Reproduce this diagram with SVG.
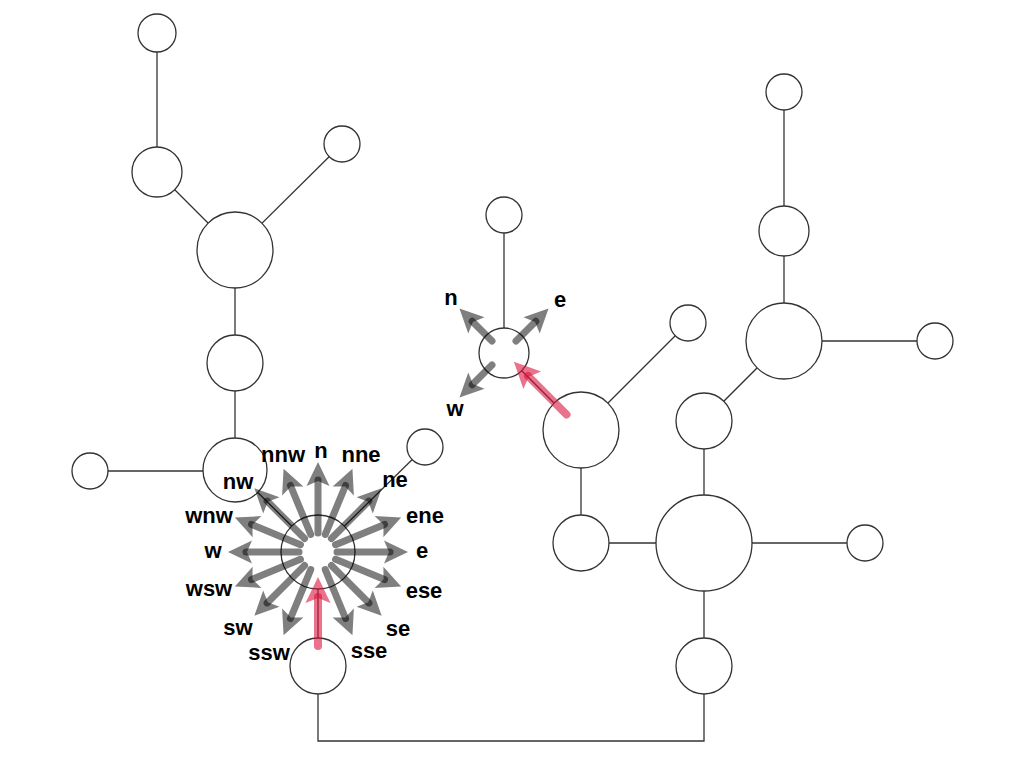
<svg xmlns="http://www.w3.org/2000/svg" width="1024" height="768" viewBox="0 0 1024 768">
<style>
.edge{fill:none;stroke:#333;stroke-width:1.3}
.node{fill:#fff;stroke:#333;stroke-width:1.3}
.garrow{stroke:#000;stroke-opacity:0.5;stroke-width:7;stroke-linecap:round;fill:none;marker-end:url(#gh)}
.rarrow{stroke:#dc143c;stroke-opacity:0.6;stroke-width:8;stroke-linecap:round;fill:none;marker-end:url(#rh)}
.lbl{font-family:"Liberation Sans",Arial,sans-serif;font-weight:bold;font-size:22px;fill:#000;text-anchor:middle}
</style>
<defs>
<marker id="gh" markerUnits="userSpaceOnUse" orient="auto" refX="0" refY="0" markerWidth="40" markerHeight="40" overflow="visible">
<path d="M18,0 L-6,-11.5 L-1,0 L-6,11.5 Z" fill="#000" fill-opacity="0.5"/>
</marker>
<marker id="rh" markerUnits="userSpaceOnUse" orient="auto" refX="0" refY="0" markerWidth="40" markerHeight="40" overflow="visible">
<path d="M20,0 L-6,-12.5 L-1,0 L-6,12.5 Z" fill="#dc143c" fill-opacity="0.6"/>
</marker>
</defs>
<rect width="1024" height="768" fill="#fff"/>
<g id="connectors">
<line class="edge" x1="157" y1="33" x2="157" y2="172"/>
<line class="edge" x1="157" y1="172" x2="235" y2="250"/>
<line class="edge" x1="342" y1="144" x2="235" y2="250"/>
<line class="edge" x1="235" y1="250" x2="235" y2="363"/>
<line class="edge" x1="235" y1="363" x2="235" y2="470"/>
<line class="edge" x1="235" y1="471" x2="90" y2="471"/>
<line class="edge" x1="235" y1="470" x2="318" y2="552"/>
<line class="edge" x1="425" y1="447" x2="318" y2="552"/>
<line class="edge" x1="318" y1="552" x2="318" y2="666"/>
<polyline class="edge" points="318,666 318,741 704,741 704,666"/>
<line class="edge" x1="504" y1="215" x2="504" y2="353"/>
<line class="edge" x1="504" y1="353" x2="581" y2="430"/>
<line class="edge" x1="688" y1="323" x2="581" y2="430"/>
<line class="edge" x1="581" y1="430" x2="581" y2="543"/>
<line class="edge" x1="581" y1="543" x2="704" y2="543"/>
<line class="edge" x1="704" y1="543" x2="865" y2="543"/>
<line class="edge" x1="704" y1="421" x2="704" y2="666"/>
<line class="edge" x1="704" y1="421" x2="784" y2="341"/>
<line class="edge" x1="784" y1="341" x2="935" y2="341"/>
<line class="edge" x1="784" y1="92" x2="784" y2="341"/>
</g>
<g id="n1"><circle class="node" cx="157" cy="33" r="19"/></g>
<g id="n2"><circle class="node" cx="157" cy="172" r="25"/></g>
<g id="n3"><circle class="node" cx="342" cy="144" r="18"/></g>
<g id="n4"><circle class="node" cx="235" cy="250" r="38"/></g>
<g id="n5"><circle class="node" cx="235" cy="363" r="28"/></g>
<g id="n6"><circle class="node" cx="235" cy="470" r="32"/></g>
<g id="n7"><circle class="node" cx="90" cy="471" r="18"/></g>
<g id="n8"><circle class="node" cx="425" cy="447" r="18"/></g>
<g id="n9"><circle class="node" cx="318" cy="552" r="37"/></g>
<g id="n10"><circle class="node" cx="318" cy="666" r="28"/></g>
<g id="n11"><circle class="node" cx="504" cy="215" r="18"/></g>
<g id="n12"><circle class="node" cx="504" cy="353" r="25"/></g>
<g id="n13"><circle class="node" cx="688" cy="323" r="18"/></g>
<g id="n14"><circle class="node" cx="581" cy="430" r="38"/></g>
<g id="n15"><circle class="node" cx="581" cy="543" r="28"/></g>
<g id="n16"><circle class="node" cx="704" cy="543" r="48"/></g>
<g id="n17"><circle class="node" cx="865" cy="543" r="18"/></g>
<g id="n18"><circle class="node" cx="704" cy="421" r="28"/></g>
<g id="n19"><circle class="node" cx="704" cy="666" r="28"/></g>
<g id="n20"><circle class="node" cx="784" cy="92" r="18"/></g>
<g id="n21"><circle class="node" cx="784" cy="231" r="25"/></g>
<g id="n22"><circle class="node" cx="784" cy="341" r="38"/></g>
<g id="n23"><circle class="node" cx="935" cy="341" r="18"/></g>
<g id="compass-large">
<g transform="translate(318 552)">
<line class="garrow" x1="19" y1="0" x2="72" y2="0" transform="rotate(-90)"/>
<line class="garrow" x1="19" y1="0" x2="72" y2="0" transform="rotate(-67.5)"/>
<line class="garrow" x1="19" y1="0" x2="72" y2="0" transform="rotate(-45)"/>
<line class="garrow" x1="19" y1="0" x2="72" y2="0" transform="rotate(-22.5)"/>
<line class="garrow" x1="19" y1="0" x2="72" y2="0" transform="rotate(0)"/>
<line class="garrow" x1="19" y1="0" x2="72" y2="0" transform="rotate(22.5)"/>
<line class="garrow" x1="19" y1="0" x2="72" y2="0" transform="rotate(45)"/>
<line class="garrow" x1="19" y1="0" x2="72" y2="0" transform="rotate(67.5)"/>
<line class="garrow" x1="19" y1="0" x2="72" y2="0" transform="rotate(112.5)"/>
<line class="garrow" x1="19" y1="0" x2="72" y2="0" transform="rotate(135)"/>
<line class="garrow" x1="19" y1="0" x2="72" y2="0" transform="rotate(157.5)"/>
<line class="garrow" x1="19" y1="0" x2="72" y2="0" transform="rotate(180)"/>
<line class="garrow" x1="19" y1="0" x2="72" y2="0" transform="rotate(-157.5)"/>
<line class="garrow" x1="19" y1="0" x2="72" y2="0" transform="rotate(-135)"/>
<line class="garrow" x1="19" y1="0" x2="72" y2="0" transform="rotate(-112.5)"/>
</g>
<line class="rarrow" x1="318" y1="646" x2="318" y2="597"/>
</g>
<g id="compass-small">
<g transform="translate(504 353)">
<line class="garrow" x1="17" y1="0" x2="45" y2="0" transform="rotate(-135)"/>
<line class="garrow" x1="17" y1="0" x2="45" y2="0" transform="rotate(-45)"/>
<line class="garrow" x1="17" y1="0" x2="45" y2="0" transform="rotate(135)"/>
</g>
<line class="rarrow" x1="566.5" y1="414.5" x2="528" y2="376"/>
</g>
<g id="labels">
<text class="lbl" x="321" y="458">n</text>
<text class="lbl" x="361" y="462">nne</text>
<text class="lbl" x="395" y="487">ne</text>
<text class="lbl" x="425" y="523">ene</text>
<text class="lbl" x="422" y="558">e</text>
<text class="lbl" x="424" y="598">ese</text>
<text class="lbl" x="398" y="636">se</text>
<text class="lbl" x="369" y="658">sse</text>
<text class="lbl" x="269" y="660">ssw</text>
<text class="lbl" x="238" y="635">sw</text>
<text class="lbl" x="209" y="596">wsw</text>
<text class="lbl" x="213" y="558">w</text>
<text class="lbl" x="209" y="523">wnw</text>
<text class="lbl" x="238" y="489">nw</text>
<text class="lbl" x="283" y="462">nnw</text>
<text class="lbl" x="451" y="305">n</text>
<text class="lbl" x="560" y="307">e</text>
<text class="lbl" x="455" y="416">w</text>
</g>
</svg>
